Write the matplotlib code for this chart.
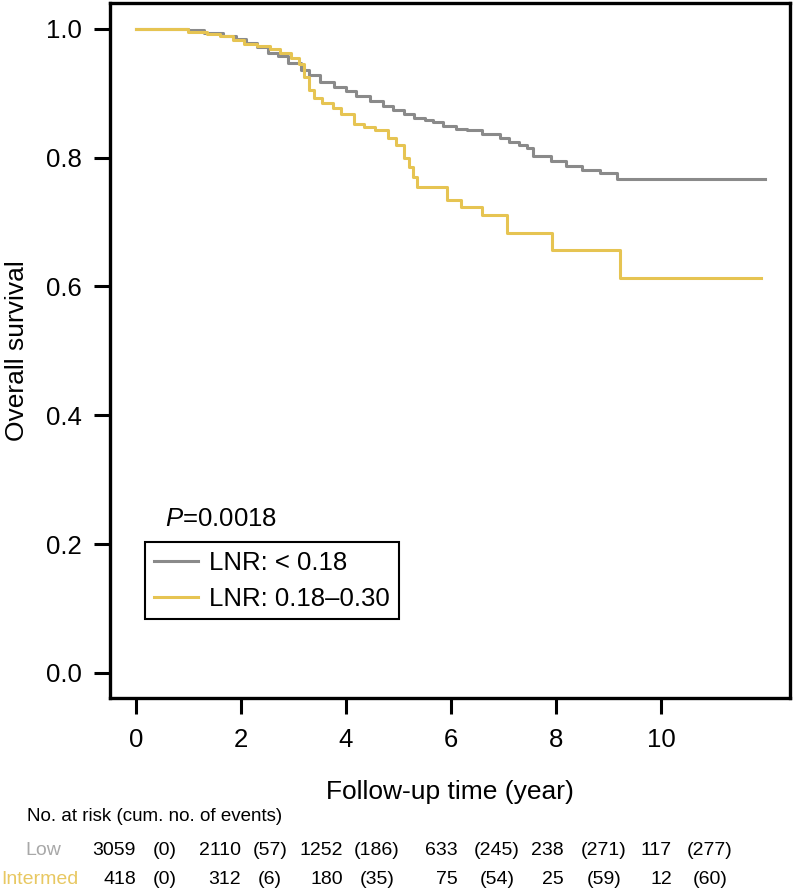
import matplotlib
matplotlib.use('Agg')
import matplotlib.pyplot as plt
import matplotlib.transforms as mtransforms

plt.rcParams['font.family'] = ['Liberation Sans', 'DejaVu Sans']
plt.rcParams['mathtext.fontset'] = 'custom'
plt.rcParams['mathtext.rm'] = 'Liberation Sans'
plt.rcParams['mathtext.it'] = 'Liberation Sans:italic'

# Kaplan-Meier curves (time in years, survival)
low_time = [0, 1.0, 1.3, 1.66, 1.9, 2.1, 2.3, 2.51, 2.7, 2.9, 3.14, 3.3, 3.5,
            3.77, 4.0, 4.2, 4.45, 4.7, 4.9, 5.1, 5.3, 5.5, 5.66, 5.85, 6.1,
            6.3, 6.6, 6.93, 7.1, 7.3, 7.45, 7.56, 7.9, 8.2, 8.5, 8.84, 9.16, 11.98]
low_surv = [1.0, 0.998, 0.994, 0.988, 0.984, 0.978, 0.972, 0.963, 0.957, 0.947,
            0.936, 0.928, 0.918, 0.910, 0.903, 0.896, 0.888, 0.880, 0.874, 0.868,
            0.862, 0.858, 0.855, 0.849, 0.845, 0.843, 0.837, 0.830, 0.824, 0.820,
            0.815, 0.803, 0.795, 0.787, 0.781, 0.776, 0.767, 0.767]

int_time = [0, 1.0, 1.35, 1.6, 1.85, 2.05, 2.3, 2.55, 2.75, 2.95, 3.1, 3.2,
            3.3, 3.4, 3.55, 3.75, 3.9, 4.15, 4.35, 4.55, 4.8, 4.95, 5.1, 5.2,
            5.28, 5.35, 5.92, 6.2, 6.6, 7.06, 7.93, 9.22, 11.9]
int_surv = [1.0, 0.995, 0.992, 0.988, 0.982, 0.976, 0.973, 0.968, 0.962, 0.955,
            0.945, 0.925, 0.905, 0.893, 0.885, 0.877, 0.868, 0.852, 0.848, 0.843,
            0.830, 0.820, 0.800, 0.785, 0.770, 0.754, 0.734, 0.724, 0.711, 0.683,
            0.657, 0.613, 0.613]

groups = ['Low', 'Intermed']
legend_labels = ['LNR: < 0.18', 'LNR: 0.18\u20130.30']
at_risk_low = ['3059', '2110', '1252', '633', '238', '117']
events_low = ['(0)', '(57)', '(186)', '(245)', '(271)', '(277)']
at_risk_int = ['418', '312', '180', '75', '25', '12']
events_int = ['(0)', '(6)', '(35)', '(54)', '(59)', '(60)']

gray = '#8a8a8a'
gold = '#e6c452'

fig = plt.figure(figsize=(7.94, 8.96), dpi=100)
ax = fig.add_axes([0.1385, 0.221, 0.8565, 0.7757])

ax.step(low_time, low_surv, where='post', color=gray, lw=2.2, label=legend_labels[0])
ax.step(int_time, int_surv, where='post', color=gold, lw=2.2, label=legend_labels[1])

ax.set_xlim(-0.495, 12.46)
ax.set_ylim(-0.039, 1.040)
ax.set_xticks([0, 2, 4, 6, 8, 10])
ax.set_yticks([0.0, 0.2, 0.4, 0.6, 0.8, 1.0])
ax.set_yticklabels(['0.0', '0.2', '0.4', '0.6', '0.8', '1.0'])
ax.tick_params(length=11.5, width=2.2, labelsize=18.5, pad=9)
ax.tick_params(axis='x', pad=10)
for s in ax.spines.values():
    s.set_linewidth(2.4)

ax.set_xlabel('Follow-up time (year)', fontsize=19, labelpad=20)
ax.set_ylabel('Overall survival', fontsize=19, labelpad=12)

ax.text(0.0815, 0.2575, '$P$=0.0018', transform=ax.transAxes, fontsize=18.5,
        va='center', ha='left')
leg = ax.legend(loc='upper left', bbox_to_anchor=(0.0515, 0.2245), fontsize=18.5,
                frameon=True, fancybox=False, edgecolor='black', framealpha=1,
                handlelength=1.7, handletextpad=0.45, labelspacing=0.45,
                borderpad=0.35, borderaxespad=0)
leg.get_frame().set_linewidth(1.5)

# number at risk table
count_x = [0, 2.0, 3.94, 6.13, 8.15, 10.21]
event_x = [0.55, 2.55, 4.59, 6.88, 8.91, 10.93]
trans = mtransforms.blended_transform_factory(ax.transData, fig.transFigure)
fig.text(27 / 794, 1 - 816 / 896, 'No. at risk (cum. no. of events)', fontsize=13.5,
         va='center', ha='left')
fig.text(25 / 794, 1 - 850 / 896, groups[0], fontsize=14, va='center', ha='left',
         color='#a8a8a8')
fig.text(1 / 794, 1 - 879 / 896, groups[1], fontsize=14, va='center', ha='left',
         color='#e8c862')
for row_y, counts, events in [(1 - 850 / 896, at_risk_low, events_low),
                              (1 - 879 / 896, at_risk_int, events_int)]:
    for cx, c in zip(count_x, counts):
        ax.text(cx, row_y, c, transform=trans, fontsize=14, ha='right', va='center')
    for ex, e in zip(event_x, events):
        ax.text(ex, row_y, e, transform=trans, fontsize=14, ha='center', va='center')

fig.savefig('out.png', dpi=100)
